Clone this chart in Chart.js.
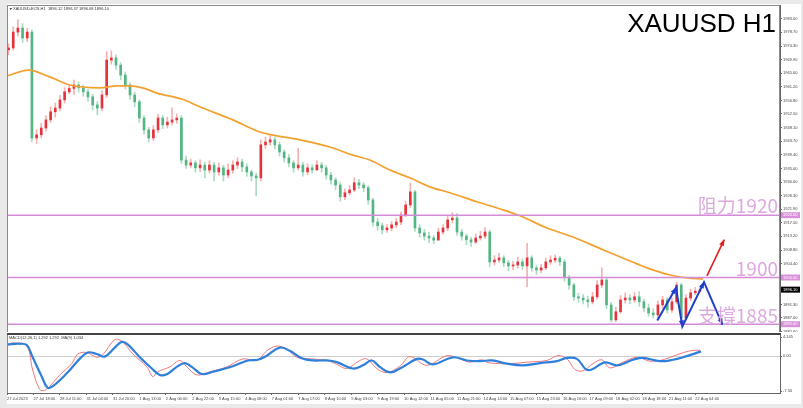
<!DOCTYPE html>
<html><head><meta charset="utf-8">
<script src="https://cdn.jsdelivr.net/npm/chart.js@4.4.0/dist/chart.umd.min.js"></script>
<style>
html,body{margin:0;padding:0;background:#e9e9e9;width:803px;height:408px;overflow:hidden;}
#frame{position:absolute;left:7px;top:4px;width:794px;height:400px;background:#fff;}
canvas{position:absolute;left:0;}
#main{top:0;} #macd{top:333px;}
</style></head><body>
<div id="frame"></div>
<canvas id="main" width="803" height="332"></canvas>
<canvas id="macd" width="803" height="75"></canvas>
<script>
// ---------- DATA (3-hour candles) ----------
const firstOpen = 1973.1;
const closes = [
1973.7,1978.8,1980.1,1976.9,1978.8,1944.8,1945.8,1948.0,1950.6,1953.2,
1954.4,1957.0,1959.6,1960.7,1961.8,1960.9,1959.6,1958.0,1955.4,1954.4,1958.6,
1969.8,1970.5,1968.2,1965.0,1961.8,1958.6,1956.4,1951.2,1947.4,1944.8,
1947.4,1951.2,1949.0,1949.9,1950.6,1951.2,1937.7,1936.1,1936.8,1935.2,1936.1,
1934.5,1936.1,1933.9,1935.2,1932.9,1934.5,1936.1,1937.1,1935.5,1933.9,
1932.6,1932.0,1942.6,1943.5,1944.2,1942.6,1940.3,1938.4,1936.8,1935.2,
1936.1,1933.9,1935.2,1934.5,1936.1,1935.2,1932.9,1931.3,1929.7,1925.9,1927.2,
1928.1,1930.4,1929.7,1928.8,1924.9,1917.8,1916.6,1915.3,1915.9,1916.9,
1917.8,1920.1,1923.3,1927.5,1915.9,1914.3,1913.3,1912.7,1912.0,1914.6,1915.9,
1918.5,1919.1,1914.6,1913.3,1912.1,1911.4,1912.7,1913.3,1914.6,1905.0,
1905.6,1906.3,1904.7,1903.7,1904.0,1905.0,1903.7,1906.3,1903.1,1902.4,
1903.1,1905.0,1905.6,1906.2,1905.0,1899.9,1897.6,1893.8,1893.4,1892.8,1892.2,
1893.8,1897.6,1899.2,1891.2,1886.4,1889.0,1892.8,1893.4,1892.8,1893.8,
1892.2,1890.2,1888.6,1888.0,1891.2,1892.8,1889.6,1892.2,1897.6,1887.0,
1893.4,1895.1,1895.6,1896.1
];
const highs = [
1975.0,1980.5,1982.7,1981.5,1980.0,1979.5,1947.5,1949.5,1952.0,1954.8,
1956.0,1958.5,1961.0,1962.0,1963.4,1962.8,1961.8,1960.5,1958.8,1956.5,1960.0,
1972.5,1972.8,1971.5,1969.0,1966.0,1962.5,1959.5,1957.0,1952.0,1948.2,
1948.8,1952.5,1952.0,1951.5,1954.5,1952.5,1952.0,1939.0,1938.0,1937.5,1937.8,
1937.0,1937.5,1937.0,1936.8,1936.0,1936.5,1937.5,1938.5,1938.0,1936.5,
1934.5,1933.5,1944.2,1945.0,1945.5,1945.0,1943.5,1941.0,1939.5,1937.5,
1941.5,1937.0,1936.5,1936.2,1937.5,1937.0,1936.0,1933.8,1932.0,1930.5,1928.5,
1929.5,1932.0,1931.5,1930.5,1929.5,1925.5,1919.0,1917.5,1917.0,1918.0,
1919.0,1921.0,1924.5,1930.4,1928.0,1917.0,1915.5,1914.5,1913.5,1915.8,1917.0,
1919.8,1920.8,1920.5,1915.5,1914.0,1913.0,1914.0,1914.8,1916.0,1915.2,
1907.0,1907.8,1907.0,1905.5,1905.2,1906.5,1906.0,1911.0,1907.0,1904.0,
1904.2,1906.2,1907.0,1907.2,1906.8,1905.8,1900.8,1898.2,1895.0,1894.5,1894.0,
1895.2,1899.0,1903.1,1900.0,1892.0,1890.5,1894.2,1895.0,1894.5,1895.2,
1895.5,1893.0,1891.5,1890.0,1892.5,1894.0,1893.5,1893.5,1898.5,1898.2,
1894.5,1896.2,1896.8,1896.8
];
const lows = [
1971.5,1973.0,1977.5,1975.5,1975.8,1943.5,1943.0,1944.8,1947.0,1949.8,
1951.5,1953.5,1956.0,1959.0,1958.8,1959.5,1958.2,1956.5,1953.8,1952.2,1953.5,
1957.8,1968.5,1966.8,1963.5,1960.5,1957.2,1954.8,1949.8,1946.0,1943.5,
1944.0,1946.5,1947.8,1948.0,1949.0,1949.5,1936.5,1935.0,1935.2,1933.8,1934.0,
1932.0,1933.5,1931.0,1932.8,1931.0,1932.0,1933.5,1935.0,1934.0,1932.5,
1931.0,1926.2,1931.0,1941.5,1942.5,1941.2,1939.0,1937.0,1935.5,1933.8,
1934.5,1932.5,1933.0,1933.5,1934.5,1933.8,1931.5,1930.0,1928.2,1924.5,1925.0,
1926.5,1927.5,1928.5,1927.5,1923.5,1916.5,1915.2,1914.0,1914.5,1915.0,
1916.0,1917.0,1919.5,1922.5,1914.8,1913.0,1912.0,1911.2,1910.8,1912.0,1913.8,
1915.0,1917.5,1913.5,1912.0,1910.5,1910.0,1910.8,1912.0,1912.5,1903.5,
1904.0,1904.8,1903.5,1902.2,1902.5,1903.0,1902.5,1897.0,1902.0,1901.0,
1901.5,1902.5,1904.2,1904.8,1903.8,1898.8,1896.2,1892.5,1892.0,1891.5,1890.5,
1891.5,1893.0,1896.8,1890.0,1885.8,1885.8,1888.5,1891.8,1891.5,1892.0,
1890.8,1889.0,1887.5,1887.0,1886.5,1890.0,1888.5,1888.8,1891.5,1885.5,
1886.5,1892.5,1894.5,1895.2
];
// moving average (orange), x in H1 bars
const maBar = [0,13.9,27.4,40.3,59.6,70.5,77.5,87.2,96.2,112.2,123.8,145.0,162.4,188.0,207.3,222.1,233.0,245.9,258.7,271.6,284.4,301.8,318.5,329.4,346.8,363.5,382.7,398.1,411.0,425.8,436.7,446.9];
const maVal = [1964.7,1966.6,1964.4,1961.8,1960.9,1961.5,1961.5,1960.9,1959.2,1957.3,1954.8,1950.6,1946.7,1944.2,1941.9,1939.3,1937.7,1934.5,1932.0,1929.1,1927.2,1924.3,1921.7,1919.8,1915.9,1913.0,1908.9,1905.7,1903.1,1900.8,1899.9,1899.5];
// MACD (red thin) and signal (blue thick)
const macdBar = [0,3.7,12.7,16.5,21.0,24.2,29.4,33.9,41.6,45.4,51.2,57.6,61.5,69.2,73.7,80.8,89.8,93.6,96.8,104.5,111.0,115.5,121.9,130.3,141.2,151.5,160.5,166.8,173.3,179.7,186.1,194.5,205.4,211.8,218.2,226.6,231.1,237.5,243.9,252.3,258.7,269.6,282.5,290.9,297.3,305.0,308.9,322.9,333.9,346.7,353.8,359.6,364.7,369.9,376.3,382.1,387.2,395.6,404.6,412.9,421.3,430.3,438.6,445.0];
const macdVal = [2.19,2.88,2.19,-3.03,-7.21,-7.42,-5.81,-4.08,-1.63,0.46,0.79,-0.25,0.31,3.59,3.24,0.46,-2.34,-4.43,-3.39,-2.34,-0.94,-2.34,-4.08,-3.39,-2.34,-0.59,-0.94,1.15,2.19,1.50,-0.25,-0.59,-0.94,-1.78,-2.68,-0.94,-0.59,-2.68,-3.59,-2.19,-0.10,-1.99,0.10,-0.59,-1.30,-0.79,-1.42,-1.63,-1.30,-0.94,0.10,-0.59,-2.88,-3.18,-1.63,-0.79,-2.55,-1.30,-0.25,-1.09,-0.79,0.31,1.15,1.29];
const sigBar = [0,8.2,12.7,16.5,22.3,26.1,29.4,38.4,46.7,51.8,57.6,62.8,69.2,73.7,77.5,85.3,93.0,98.1,102.6,109.0,114.2,118.7,125.1,132.2,145.0,154.6,161.1,166.8,175.2,181.6,189.3,196.4,205.4,211.8,222.1,228.5,234.3,239.4,245.9,252.3,263.2,267.1,273.5,286.4,295.4,303.7,311.4,321.1,331.3,342.3,353.2,359.6,366.0,373.1,384.0,391.7,402.0,408.4,419.3,427.7,434.1,445.7];
const sigVal = [2.55,2.68,2.40,-0.25,-4.43,-6.86,-6.52,-3.72,-0.59,0.79,0.46,-0.10,1.84,3.09,2.55,-0.25,-2.68,-4.08,-3.93,-2.34,-1.50,-2.34,-3.87,-3.39,-2.19,-0.94,-0.79,0.10,1.84,1.15,-0.46,-0.94,-0.94,-1.30,-2.68,-1.99,-0.94,-2.34,-3.51,-2.68,-0.59,-0.73,-1.78,-0.25,-0.94,-1.09,-0.94,-1.63,-1.99,-1.50,-1.09,-0.38,-0.59,-3.03,-1.36,-1.99,-0.79,-0.38,-1.09,-0.79,-0.25,1.03];
// axes
const tickBars = [0,17,34,51,68,85,102,119,136,153,170,187,204,221,238,255,272,289,306,323,340,357,374,391,408,425,442];
const timeLabels = ["27 Jul 2023","27 Jul 18:00","28 Jul 11:00","31 Jul 04:00","31 Jul 20:00","1 Aug 13:00","2 Aug 06:00","2 Aug 22:00","3 Aug 15:00","4 Aug 08:00","7 Aug 01:00","7 Aug 17:00","8 Aug 10:00","9 Aug 03:00","9 Aug 19:00","10 Aug 12:00","11 Aug 05:00","11 Aug 21:00","14 Aug 14:00","15 Aug 07:00","15 Aug 23:00","16 Aug 16:00","17 Aug 09:00","18 Aug 02:00","18 Aug 18:00","21 Aug 11:00","22 Aug 04:00"];
const priceTicks = [1983.00,1978.70,1974.30,1969.90,1965.60,1961.20,1956.80,1952.50,1948.10,1943.70,1939.40,1935.00,1930.60,1926.30,1921.90,1917.50,1913.20,1908.80,1904.40,1891.30,1887.00,1882.60];
const macdTicks = [4.145,0,-7.56];
const macdTickLabels = ["4.145","0.00","-7.56"];
// annotations
const levels = [1920,1900,1885];
const levelText = ["阻力1920","1900","支撐1885"];
const zigBar = [417.6,429.6,433.7,447.6,459.4];
const zigVal = [1886.2,1896.7,1884.3,1898.5,1884.9];
const upBar = [449.5,460.5];
const upVal = [1900.5,1912.1];
const lastPrice = 1896.10;
const headerText = "XAUUSD-ECN,H1  1896.12 1896.37 1896.08 1896.10";
const macdHeader = "MACD(12,26,1) 1.292 1.292  MA(9) 1.034";

// ---------- BUILD ----------
const X_MAX = 496.4;
const opens = closes.map((c,i)=> i===0 ? firstOpen : closes[i-1]);
const barX = closes.map((c,i)=> 3*i+1);
const isUp = i => closes[i] >= opens[i];
const RED='#e4333a', GREEN='#52b582', RED_W='#f5b0b0', GREEN_W='#aadcc2';
const LVL='#d68bd8';
const TF = 'Liberation Sans, Arial, sans-serif';

function arrowHead(ctx,x0,y0,x1,y1,color,len,w){
  const a=Math.atan2(y1-y0,x1-x0);
  ctx.save();ctx.translate(x1,y1);ctx.rotate(a);
  ctx.beginPath();ctx.moveTo(1,0);ctx.lineTo(-len,w/2);ctx.lineTo(-len,-w/2);ctx.closePath();
  ctx.fillStyle=color;ctx.fill();ctx.restore();
}

const mainDeco = {
  id:'mainDeco',
  beforeDraw(chart){
    const {ctx,chartArea:a}=chart;
    ctx.save();ctx.fillStyle='#fff';ctx.fillRect(a.left,a.top,a.right-a.left,a.bottom-a.top);ctx.restore();
  },
  afterDatasetsDraw(chart){
    const ctx=chart.ctx;
    const zm=chart.getDatasetMeta(chart.data.datasets.findIndex(d=>d.label==='zig')).data;
    for(let i=1;i<zm.length;i++) arrowHead(ctx,zm[i-1].x,zm[i-1].y,zm[i].x,zm[i].y,'#1f3fc9',6,5);
    const um=chart.getDatasetMeta(chart.data.datasets.findIndex(d=>d.label==='up')).data;
    arrowHead(ctx,um[0].x,um[0].y,um[1].x,um[1].y,'#e0201c',6,5);
  },
  afterDraw(chart){
    const {ctx,chartArea:a,scales}=chart; const y=scales.y;
    ctx.save();
    ctx.strokeStyle='#8a8a8a';ctx.lineWidth=1;
    ctx.strokeRect(a.left+0.5,a.top+0.5,a.right-a.left-1,a.bottom-a.top);
    ctx.font='19px "Noto Sans CJK SC", sans-serif';ctx.fillStyle='#dcaade';ctx.textAlign='right';ctx.textBaseline='alphabetic';
    const off=[-2,-1.5,-1];
    levels.forEach((v,i)=>ctx.fillText(levelText[i],a.right-2,y.getPixelForValue(v)+off[i]));
    ctx.font='26px '+TF;ctx.fillStyle='#000';ctx.fillText('XAUUSD H1',a.right-4,32);
    ctx.textAlign='left';ctx.textBaseline='middle';ctx.font='4px '+TF;ctx.fillStyle='#333';
    ctx.fillText(headerText,13,9);
    ctx.beginPath();ctx.moveTo(9.5,8);ctx.lineTo(12,8);ctx.lineTo(10.75,10);ctx.closePath();ctx.fill();
    const box=(v,bg)=>{const py=y.getPixelForValue(v);ctx.fillStyle=bg;ctx.fillRect(a.right+1,py-3,19,6);
      ctx.fillStyle='#fff';ctx.fillText(v.toFixed(2),a.right+3,py);};
    levels.forEach(v=>box(v,'#d98fd9'));
    box(lastPrice,'#000');
    ctx.restore();
  }
};

const lvlSets = levels.map(v=>({type:'line',label:'lvl',data:[{x:0,y:v},{x:X_MAX,y:v}],borderColor:LVL,borderWidth:1.6,pointRadius:0,order:2}));

new Chart(document.getElementById('main'),{
  type:'bar',
  data:{datasets:[
    {type:'line',label:'zig',data:zigBar.map((x,i)=>({x,y:zigVal[i]})),borderColor:'#1f3fc9',borderWidth:2,pointRadius:0,order:0},
    {type:'line',label:'up',data:upBar.map((x,i)=>({x,y:upVal[i]})),borderColor:'#e0201c',borderWidth:1.6,pointRadius:0,order:0},
    ...lvlSets,
    {type:'line',label:'ma',data:maBar.map((x,i)=>({x,y:maVal[i]})),borderColor:'#f3a02e',borderWidth:1.7,pointRadius:0,cubicInterpolationMode:'monotone',order:3},
    {type:'bar',label:'body',data:barX.map((x,i)=>({x,y:[Math.min(opens[i],closes[i]),Math.max(opens[i],closes[i])]})),
      backgroundColor:c=>isUp(c.dataIndex)?RED:GREEN,barThickness:2,minBarLength:1,grouped:false,order:4},
    {type:'bar',label:'wick',data:barX.map((x,i)=>({x,y:[lows[i],highs[i]]})),
      backgroundColor:c=>isUp(c.dataIndex)?RED_W:GREEN_W,barThickness:1,grouped:false,order:5}
  ]},
  options:{
    responsive:false,animation:false,events:[],
    layout:{padding:{left:7,right:1,top:5,bottom:0}},
    plugins:{legend:{display:false},tooltip:{enabled:false}},
    scales:{
      x:{type:'linear',min:0,max:X_MAX,display:false,offset:false,grid:{offset:false}},
      y:{position:'right',min:1882.5,max:1987.49,
        afterBuildTicks:s=>{s.ticks=priceTicks.map(v=>({value:v}));},
        afterFit:s=>{s.width=22;s.paddingTop=0;s.paddingBottom=0;},
        ticks:{autoSkip:false,font:{size:4,family:TF},color:'#444',padding:1,callback:v=>Number(v).toFixed(2)},
        grid:{drawOnChartArea:false,tickLength:2,color:'#666'},
        border:{display:true,color:'#666',width:1}}
    }
  },
  plugins:[mainDeco]
});

const macdDeco = {
  id:'macdDeco',
  beforeDraw(chart){
    const {ctx,chartArea:a}=chart;
    ctx.save();ctx.fillStyle='#fff';ctx.fillRect(a.left,a.top,a.right-a.left,a.bottom-a.top);ctx.restore();
  },
  afterDraw(chart){
    const {ctx,chartArea:a}=chart;
    ctx.save();
    ctx.fillStyle='#444';ctx.fillRect(a.left,a.top-2,a.right-a.left+1,2);
    ctx.strokeStyle='#8a8a8a';ctx.lineWidth=1;
    ctx.beginPath();ctx.moveTo(a.left+0.5,a.top);ctx.lineTo(a.left+0.5,a.bottom);ctx.stroke();
    ctx.textAlign='left';ctx.textBaseline='middle';ctx.font='4px '+TF;ctx.fillStyle='#333';
    ctx.fillText(macdHeader,a.left+2,a.top+3);
    ctx.restore();
  }
};

new Chart(document.getElementById('macd'),{
  type:'line',
  data:{datasets:[
    {label:'signal',data:sigBar.map((x,i)=>({x,y:sigVal[i]})),borderColor:'#2f7fdc',borderWidth:2.2,pointRadius:0,tension:0.4,order:0},
    {label:'macd',data:macdBar.map((x,i)=>({x,y:macdVal[i]})),borderColor:'#f07a7a',borderWidth:1,pointRadius:0,tension:0.35,order:1}
  ]},
  options:{
    responsive:false,animation:false,events:[],
    layout:{padding:{left:7,right:1,top:2,bottom:0}},
    plugins:{legend:{display:false},tooltip:{enabled:false}},
    scales:{
      x:{type:'linear',min:0,max:X_MAX,offset:false,
        afterBuildTicks:s=>{s.ticks=tickBars.map(v=>({value:v}));},
        afterFit:s=>{s.height=15;s.paddingLeft=0;s.paddingRight=0;},
        ticks:{autoSkip:false,maxRotation:0,minRotation:0,align:'start',font:{size:4,family:TF},color:'#444',padding:1,
          callback:(v,i)=>timeLabels[i]},
        grid:{drawOnChartArea:false,tickLength:2,color:'#666'},
        border:{display:true,color:'#666',width:1}},
      y:{position:'right',min:-7.99,max:4.58,
        afterBuildTicks:s=>{s.ticks=macdTicks.map(v=>({value:v}));},
        afterFit:s=>{s.width=22;s.paddingTop=0;s.paddingBottom=0;},
        ticks:{autoSkip:false,font:{size:4,family:TF},color:'#444',padding:1,callback:(v,i)=>macdTickLabels[i]},
        grid:{drawOnChartArea:true,tickLength:2,tickColor:'#666',color:c=>(c.tick&&c.tick.value===0)?'#cfcfcf':'rgba(0,0,0,0)'},
        border:{display:true,color:'#666',width:1}}
    }
  },
  plugins:[macdDeco]
});
</script>
</body></html>
